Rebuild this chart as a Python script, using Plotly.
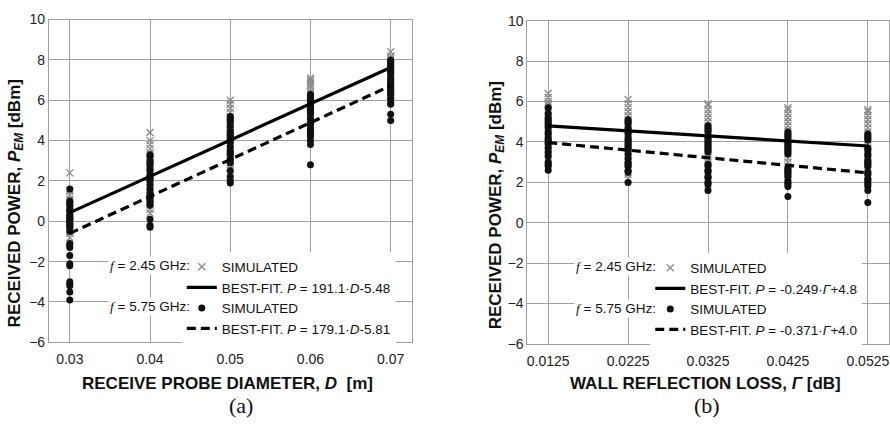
import plotly.graph_objects as go

# ---------------- data ----------------
D_VALUES = [0.03, 0.04, 0.05, 0.06, 0.07]
D_TICKS = ["0.03", "0.04", "0.05", "0.06", "0.07"]

SIM245_A = [
    [2.4, 1.5, 1.3, 1.1, 0.9, 0.8, 0.7, 0.6, 0.5, 0.4, 0.3, 0.2, 0.1, 0.0, -0.1, -0.2, -0.3, -0.4, -0.5, -0.6, -0.8],
    [4.4, 4.0, 3.8, 3.6, 3.4, 3.2, 3.0, 2.8, 2.6, 2.4, 2.2, 2.0, 1.8, 1.6, 1.4, 1.2, 1.0, 0.8, 0.6, 0.4],
    [6.0, 5.8, 5.6, 5.4, 5.2, 5.0, 4.8, 4.6, 4.4, 4.2, 4.0, 3.8, 3.6, 3.4, 3.2, 3.0, 2.8, 2.6, 2.4, 2.2],
    [7.1, 7.0, 6.9, 6.8, 6.7, 6.6, 6.4, 6.2, 6.0, 5.8, 5.6, 5.4, 5.2, 5.0, 4.8, 4.6, 4.4, 4.1],
    [8.4, 8.2, 8.1, 8.0, 7.8, 7.6, 7.4, 7.2, 7.0, 6.8, 6.6, 6.4, 6.2, 6.0],
]
SIM575_A = [
    [1.6, 1.0, 0.9, 0.8, 0.6, 0.5, 0.3, 0.2, 0.1, 0.0, -0.1, -0.2, -0.3, -0.5, -1.1, -1.2, -1.3, -1.7, -2.1, -2.2, -3.0, -3.1, -3.2, -3.5, -3.9],
    [3.3, 3.2, 3.0, 2.9, 2.8, 2.6, 2.5, 2.3, 2.2, 2.1, 2.0, 1.8, 1.6, 1.4, 1.3, 1.2, 1.1, 1.0, 0.9, 0.8, 0.1, -0.2, -0.3],
    [5.2, 5.1, 5.0, 4.9, 4.7, 4.5, 4.4, 4.3, 4.2, 4.1, 4.0, 3.9, 3.7, 3.5, 3.4, 3.3, 3.1, 3.0, 2.9, 2.5, 2.2, 2.0, 1.9],
    [6.3, 6.2, 6.1, 6.0, 5.9, 5.8, 5.7, 5.6, 5.5, 5.4, 5.3, 5.1, 4.9, 4.8, 4.6, 4.5, 4.4, 4.3, 4.2, 4.0, 3.8, 2.8],
    [8.0, 7.9, 7.8, 7.7, 7.6, 7.5, 7.4, 7.3, 7.1, 7.0, 6.9, 6.8, 6.7, 6.6, 6.5, 6.4, 6.3, 6.1, 5.9, 5.8, 5.3, 5.0],
]
FIT_X_A = [0.03, 0.07]
FIT245_A = [0.43, 7.62]
FIT575_A = [-0.60, 6.72]

G_VALUES = [0.0125, 0.0225, 0.0325, 0.0425, 0.0525]
G_TICKS = ["0.0125", "0.0225", "0.0325", "0.0425", "0.0525"]

SIM245_B = [
    [6.4, 6.2, 6.0, 5.9, 5.8, 5.6, 5.4, 5.2, 5.0, 4.8, 4.6, 4.4, 4.2, 4.0, 3.8, 3.6, 3.4, 3.2, 3.0],
    [6.1, 5.9, 5.7, 5.5, 5.3, 5.1, 4.9, 4.7, 4.5, 4.3, 4.1, 3.9, 3.7, 3.5, 3.3, 3.1, 2.9, 2.7, 2.4, 2.2],
    [5.9, 5.8, 5.6, 5.4, 5.2, 5.0, 4.8, 4.6, 4.4, 4.2, 4.0, 3.8, 3.6, 3.4, 3.2, 3.0, 2.8, 2.4, 2.1, 1.9],
    [5.7, 5.6, 5.4, 5.2, 5.0, 4.8, 4.6, 4.4, 4.2, 4.0, 3.8, 3.6, 3.4, 3.2, 3.0, 2.8, 2.6, 2.4, 2.1],
    [5.6, 5.5, 5.3, 5.1, 4.9, 4.7, 4.5, 4.3, 4.1, 3.9, 3.7, 3.5, 3.3, 3.1, 2.9, 2.7, 2.5, 2.3],
]
SIM575_B = [
    [5.7, 5.4, 5.2, 5.1, 5.0, 4.9, 4.8, 4.7, 4.5, 4.4, 4.2, 4.1, 4.0, 3.9, 3.7, 3.5, 3.3, 3.0, 2.9, 2.8, 2.6],
    [5.1, 5.0, 4.9, 4.7, 4.6, 4.5, 4.4, 4.2, 4.1, 4.0, 3.9, 3.8, 3.7, 3.6, 3.4, 3.2, 3.0, 2.9, 2.8, 2.6, 2.5, 2.0],
    [4.8, 4.7, 4.6, 4.5, 4.3, 4.2, 4.1, 4.0, 3.9, 3.8, 3.7, 3.6, 3.5, 2.9, 2.8, 2.6, 2.5, 2.3, 2.2, 2.0, 1.9, 1.6],
    [4.5, 4.4, 4.3, 4.2, 4.0, 3.9, 3.8, 3.7, 3.6, 3.5, 3.4, 2.7, 2.6, 2.5, 2.4, 2.3, 2.1, 2.0, 1.9, 1.8, 1.3],
    [4.4, 4.3, 4.2, 4.1, 3.7, 3.6, 3.4, 3.3, 3.1, 3.0, 2.9, 2.8, 2.5, 2.4, 2.2, 2.1, 2.0, 1.9, 1.8, 1.6, 1.0],
]
FIT_X_B = [0.0125, 0.0525]
FIT245_B = [4.80, 3.80]
FIT575_B = [3.97, 2.47]

LEG_A = ["SIMULATED", "BEST-FIT. <i>P</i> = 191.1·<i>D</i>-5.48",
         "SIMULATED", "BEST-FIT. <i>P</i> = 179.1·<i>D</i>-5.81"]
LEG_B = ["SIMULATED", "BEST-FIT. <i>P</i> = -0.249·<i>Γ</i>+4.8",
         "SIMULATED", "BEST-FIT. <i>P</i> = -0.371·<i>Γ</i>+4.0"]
FREQ_LABELS = ["= 2.45 GHz:", "= 5.75 GHz:"]

# ---------------- figure ----------------
W, H = 890, 428
SANS = "Liberation Sans, Arial, sans-serif"
SERIF = "Liberation Serif, Times New Roman, serif"
GRID = "#a0a0a0"


def px_x(p):
    return p / W


def px_y(p):
    return 1 - p / H


def flat(xs, groups):
    fx, fy = [], []
    for xv, g in zip(xs, groups):
        for v in g:
            fx.append(xv)
            fy.append(v)
    return fx, fy


fig = go.Figure()


def add_panel(xs, s245, s575, fx, f245, f575, names, xa, ya, leg):
    x1, y1 = flat(xs, s245)
    x2, y2 = flat(xs, s575)
    fig.add_trace(go.Scatter(
        x=x1, y=y1, mode="markers", name=names[0], legend=leg, legendrank=1,
        xaxis=xa, yaxis=ya,
        marker=dict(symbol="x-thin", size=7, line=dict(width=1.3, color="#8a8a8a"), color="#8a8a8a")))
    fig.add_trace(go.Scatter(
        x=x2, y=y2, mode="markers", name=names[2], legend=leg, legendrank=3,
        xaxis=xa, yaxis=ya,
        marker=dict(symbol="circle", size=7, color="#111111")))
    fig.add_trace(go.Scatter(
        x=fx, y=f245, mode="lines", name=names[1], legend=leg, legendrank=2,
        xaxis=xa, yaxis=ya, line=dict(color="#000000", width=3.2)))
    fig.add_trace(go.Scatter(
        x=fx, y=f575, mode="lines", name=names[3], legend=leg, legendrank=4,
        xaxis=xa, yaxis=ya, line=dict(color="#000000", width=3.2, dash="9px,5px")))


add_panel(D_VALUES, SIM245_A, SIM575_A, FIT_X_A, FIT245_A, FIT575_A, LEG_A, "x", "y", "legend")
add_panel(G_VALUES, SIM245_B, SIM575_B, FIT_X_B, FIT245_B, FIT575_B, LEG_B, "x2", "y2", "legend2")

axis_common = dict(showgrid=True, gridcolor=GRID, gridwidth=1, zeroline=False,
                   showline=True, linecolor=GRID, linewidth=1, mirror=True,
                   ticks="", tickfont=dict(family=SANS, size=14, color="#222222"))

fig.update_layout(
    width=W, height=H, margin=dict(l=0, r=0, t=0, b=0),
    paper_bgcolor="white", plot_bgcolor="white",
    xaxis=dict(domain=[px_x(48), px_x(411)], range=[0.0274, 0.0726],
               tickvals=D_VALUES, ticktext=D_TICKS, anchor="y",
               ticklabelstandoff=4, **axis_common),
    yaxis=dict(domain=[px_y(347.3), px_y(12)], range=[-6, 10], dtick=2, anchor="x", **axis_common),
    xaxis2=dict(domain=[px_x(527), px_x(889)], range=[0.0099, 0.05515],
                tickvals=G_VALUES, ticktext=G_TICKS, anchor="y2",
                ticklabelstandoff=4, **axis_common),
    yaxis2=dict(domain=[px_y(349), px_y(13.3)], range=[-6, 10], dtick=2, anchor="x2", **axis_common),
    legend=dict(x=px_x(181), y=px_y(253), xanchor="left", yanchor="top",
                bgcolor="white", borderwidth=0, traceorder="normal",
                font=dict(family=SANS, size=13.5, color="#111111"), tracegroupgap=0),
    legend2=dict(x=px_x(650), y=px_y(254), xanchor="left", yanchor="top",
                 bgcolor="white", borderwidth=0, traceorder="normal",
                 font=dict(family=SANS, size=13.5, color="#111111"), tracegroupgap=0),
    showlegend=True,
)

ann = []
f_italic = "<span style='font-family:Liberation Serif'><i>f</i></span> "
for (xr, rows) in [(191, (268, 310)), (658, (269, 312))]:
    for lab, yy in zip(FREQ_LABELS, rows):
        ann.append(dict(xref="paper", yref="paper", x=px_x(xr), y=px_y(yy),
                        xanchor="right", yanchor="middle", showarrow=False,
                        text=f_italic + lab, bgcolor="white",
                        font=dict(family=SANS, size=13.5, color="#111111")))

ytitle = "<b>RECEIVED POWER, <i>P</i><sub><i>EM</i></sub> [dBm]</b>"
for xx, yy in [(15, 203), (496, 204.5)]:
    ann.append(dict(xref="paper", yref="paper", x=px_x(xx), y=px_y(yy),
                    xanchor="center", yanchor="middle", showarrow=False, textangle=-90,
                    text=ytitle, font=dict(family=SANS, size=17, color="#111111")))

ann.append(dict(xref="paper", yref="paper", x=px_x(227), y=px_y(390),
                xanchor="center", yanchor="middle", showarrow=False,
                text="<b>RECEIVE PROBE DIAMETER, <i>D</i>\u00a0 [m]</b>",
                font=dict(family=SANS, size=17, color="#111111")))
ann.append(dict(xref="paper", yref="paper", x=px_x(705), y=px_y(390),
                xanchor="center", yanchor="middle", showarrow=False,
                text="<b>WALL REFLECTION LOSS, <i>Γ</i> [dB]</b>",
                font=dict(family=SANS, size=17, color="#111111")))
for xx, t in [(240, "(a)"), (707, "(b)")]:
    ann.append(dict(xref="paper", yref="paper", x=px_x(xx), y=px_y(413),
                    xanchor="center", yanchor="middle", showarrow=False,
                    text=t, font=dict(family=SERIF, size=22, color="#111111")))

fig.update_layout(annotations=ann)
fig.write_html("out.html")
